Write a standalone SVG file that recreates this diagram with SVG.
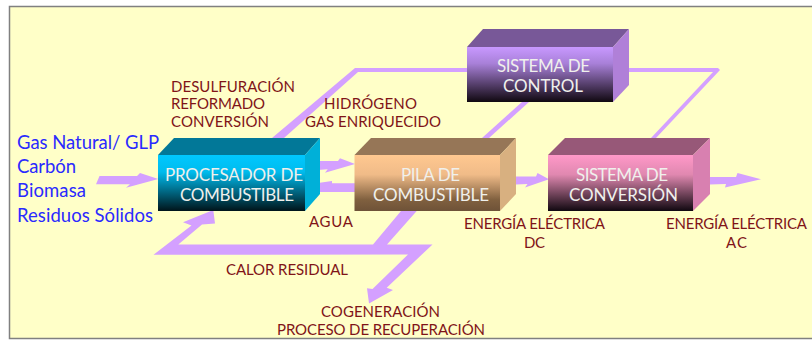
<svg xmlns="http://www.w3.org/2000/svg" width="812" height="340" viewBox="0 0 812 340">
<style>
text{font-family:"Lato","Liberation Sans",sans-serif}
.l{font-size:15px;fill:#7f1418}
.b{font-size:18.5px;fill:#2a2aff}
.w{font-size:17px;fill:#f0f0ec}
.f{fill:#d4a0ff}
</style>
<defs>
<linearGradient id="gt" x1="0" y1="0" x2="0" y2="1"><stop offset="0" stop-color="#00c8ff"/><stop offset=".3" stop-color="#00bcee"/><stop offset="1" stop-color="#00141a"/></linearGradient>
<linearGradient id="gb" x1="0" y1="0" x2="0" y2="1"><stop offset="0" stop-color="#ffc890"/><stop offset=".35" stop-color="#f0bb88"/><stop offset=".8" stop-color="#80603f"/><stop offset="1" stop-color="#6e5238"/></linearGradient>
<linearGradient id="gp" x1="0" y1="0" x2="0" y2="1"><stop offset="0" stop-color="#ff98c8"/><stop offset=".35" stop-color="#e088b0"/><stop offset="1" stop-color="#100810"/></linearGradient>
<linearGradient id="gv" x1="0" y1="0" x2="0" y2="1"><stop offset="0" stop-color="#c898ff"/><stop offset=".3" stop-color="#a880d8"/><stop offset="1" stop-color="#100810"/></linearGradient>
</defs>
<rect width="812" height="340" fill="#fff"/>
<path d="M812 6.500H9.500V338.500H812" fill="#ffffc8" stroke="#808080" stroke-width="1.500"/>
<g id="connectors">
<polygon class="f" points="272,138 355,68 467,68 467,72 358,72 284,138"/>
<polygon class="f" points="629,68 718,68 720,70 656,138 651,138 713,72 629,72"/>
<polygon class="f" points="529,102 522,102 482,138 489,138"/>
<polygon class="f" points="99.500,176 137,176 140,173 158.300,179 126,187.700 130,184.300 96,184.300"/>
<polygon class="f" points="318,161 338,161 340,158.300 355,164 325,172.700 327.700,169.300 318,170"/>
<polygon class="f" points="355,183.300 332,183.300 332,181 318,183 318,192 355,192"/>
<polygon class="f" points="516,176.500 536,176.500 537.500,173 549,179.300 525,187.500 527.500,184 516,184.500"/>
<polygon class="f" points="710,177 736,177 737.500,173 761,179.300 725,187.500 726,184 710,184.500"/>
<polygon class="f" points="153.500,254.800 191.500,225.500 183,222.300 213.300,210 215,223.500 202,224.500 178.300,244.500 373,244.500 401,211 416.700,211 387,244.500 432.500,244.500 386.700,287.700 393,290 369,303.500 367,288.300 372.500,289 408,254.500"/>
</g>
<g id="control">
<polygon points="467,47 483,29 629,29 613,47" fill="#785898"/>
<polygon points="613,47 629,29 629,85 613,102" fill="#b080d8"/>
<rect x="467" y="47" width="146" height="55" fill="url(#gv)"/>
<text class="w" x="497" y="72" textLength="93">SISTEMA DE</text>
<text class="w" x="503" y="92" textLength="80">CONTROL</text>
</g>
<g id="procesador">
<polygon points="158,155 174,138 320,138 305,155" fill="#027898"/>
<polygon points="305,155 320,138 320,194 305,211" fill="#00b0d8"/>
<rect x="158" y="155" width="147" height="56" fill="url(#gt)"/>
<text class="w" x="165" y="181" textLength="138">PROCESADOR DE</text>
<text class="w" x="180" y="201" textLength="114">COMBUSTIBLE</text>
</g>
<g id="pila">
<polygon points="354.500,155 371,138 516,138 500,155" fill="#967657"/>
<polygon points="500,155 516,138 516,194 500,211" fill="#d8b080"/>
<rect x="354.500" y="155" width="145.500" height="56" fill="url(#gb)"/>
<text class="w" x="401" y="181" textLength="59">PILA DE</text>
<text class="w" x="373" y="201" textLength="116">COMBUSTIBLE</text>
</g>
<g id="conversion">
<polygon points="548,155 565,138 710,138 693,155" fill="#975878"/>
<polygon points="693,155 710,138 710,194 693,211" fill="#d880b0"/>
<rect x="548" y="155" width="145" height="56" fill="url(#gp)"/>
<text class="w" x="576" y="181" textLength="92">SISTEMA DE</text>
<text class="w" x="569" y="201" textLength="109">CONVERSIÓN</text>
</g>
<g id="labels">
<text class="l" x="171" y="92" textLength="124">DESULFURACIÓN</text>
<text class="l" x="171" y="109" textLength="94">REFORMADO</text>
<text class="l" x="171" y="127" textLength="98">CONVERSIÓN</text>
<text class="l" x="324" y="109" textLength="93">HIDRÓGENO</text>
<text class="l" x="305" y="127" textLength="136">GAS ENRIQUECIDO</text>
<text class="b" x="17" y="149" textLength="142">Gas Natural/ GLP</text>
<text class="b" x="17" y="173" textLength="59">Carbón</text>
<text class="b" x="17" y="197" textLength="69">Biomasa</text>
<text class="b" x="17" y="221.500" textLength="136">Residuos Sólidos</text>
<text class="l" x="309" y="227" textLength="44">AGUA</text>
<text class="l" x="226" y="275" textLength="122">CALOR RESIDUAL</text>
<text class="l" x="321" y="316.500" textLength="119">COGENERACIÓN</text>
<text class="l" x="277" y="335" textLength="208">PROCESO DE RECUPERACIÓN</text>
<text class="l" x="464" y="229" textLength="141">ENERGÍA ELÉCTRICA</text>
<text class="l" x="524" y="247.500" textLength="21">DC</text>
<text class="l" x="666" y="229" textLength="141">ENERGÍA ELÉCTRICA</text>
<text class="l" x="726" y="247.500" textLength="21">AC</text>
</g>
</svg>
